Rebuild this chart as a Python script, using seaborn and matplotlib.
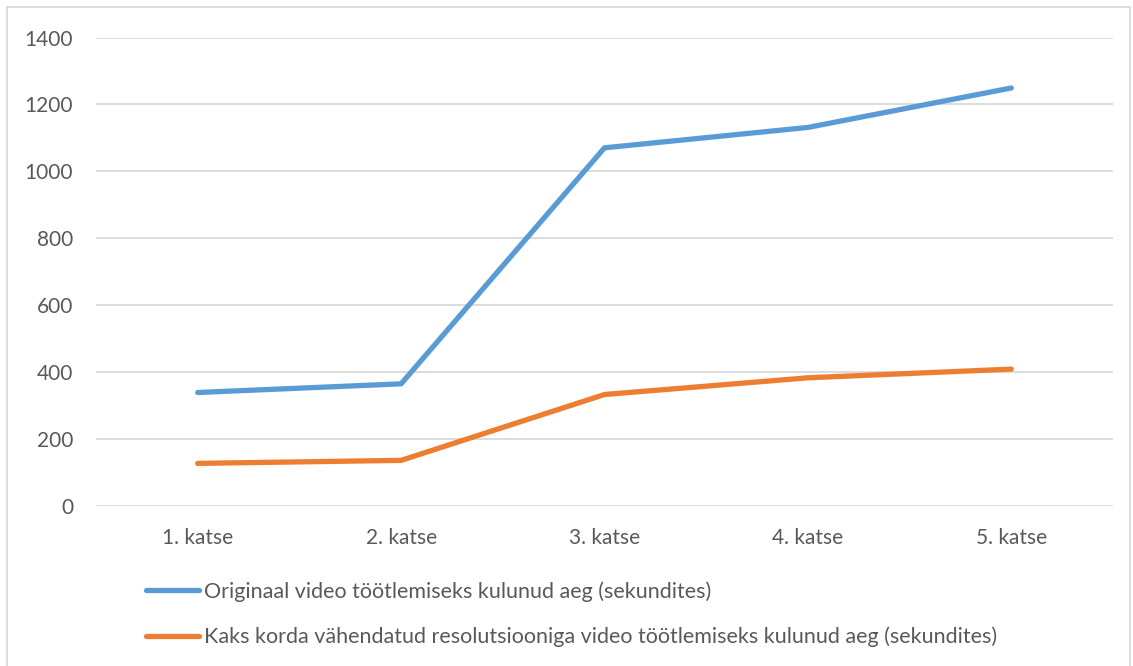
import matplotlib
matplotlib.use("Agg")
import matplotlib.pyplot as plt
import seaborn as sns
import pandas as pd
from matplotlib.patches import Rectangle

categories = ["1. katse", "2. katse", "3. katse", "4. katse", "5. katse"]
original_times = [338, 364, 1070, 1131, 1249]
reduced_times = [126, 135, 332, 382, 408]
series_names = [
    "Originaal video töötlemiseks kulunud aeg (sekundites)",
    "Kaks korda vähendatud resolutsiooniga video töötlemiseks kulunud aeg (sekundites)",
]
y_ticks = [0, 200, 400, 600, 800, 1000, 1200, 1400]
colors = ["#5B9BD5", "#ED7D31"]

df = pd.DataFrame({
    "katse": categories * 2,
    "aeg": original_times + reduced_times,
    "seeria": [series_names[0]] * len(categories) + [series_names[1]] * len(categories),
})

sns.set_theme(style="white")
plt.rcParams["font.family"] = ["Lato", "DejaVu Sans"]

fig = plt.figure(figsize=(11.33, 6.66), dpi=100)
ax = fig.add_axes([96 / 1133, 1 - 505.5 / 666, (1113 - 96) / 1133, (505.5 - 37.5) / 666])

sns.lineplot(
    data=df, x="katse", y="aeg", hue="seeria", palette=colors,
    sort=False, linewidth=3.8, ax=ax, legend=False,
    solid_capstyle="round", solid_joinstyle="round",
)

ax.set_xlim(-0.5, len(categories) - 0.5)
ax.set_ylim(0, 1400)
ax.set_yticks(y_ticks)
ax.set_yticklabels([str(t) for t in y_ticks])
ax.set_xlabel("")
ax.set_ylabel("")
ax.grid(axis="y", color="#D9D9D9", linewidth=1.3)
ax.grid(axis="x", visible=False)
ax.set_axisbelow(True)
for side in ["top", "right", "left", "bottom"]:
    ax.spines[side].set_visible(False)
ax.tick_params(axis="both", length=0, labelsize=15, labelcolor="#595959")
ax.tick_params(axis="y", pad=16.5)
ax.tick_params(axis="x", pad=16.5)

# Legend below the plot, one entry per row
handles = [plt.Line2D([], [], color=c, linewidth=3.8, solid_capstyle="round") for c in colors]
leg = fig.legend(
    handles, series_names, loc="upper left", bbox_to_anchor=(127 / 1133, 1 - 562 / 666),
    frameon=False, fontsize=15.5, handlelength=2.45, handletextpad=0.25,
    labelspacing=1.15, labelcolor="#595959",
)

# Chart area border
fig.patches.append(Rectangle((7 / 1133, -0.01), (1130 - 7) / 1133, 1 - 7 / 666 + 0.01,
                             transform=fig.transFigure, fill=False,
                             edgecolor="#D9D9D9", linewidth=1.3))

fig.savefig("out.png", dpi=100)
